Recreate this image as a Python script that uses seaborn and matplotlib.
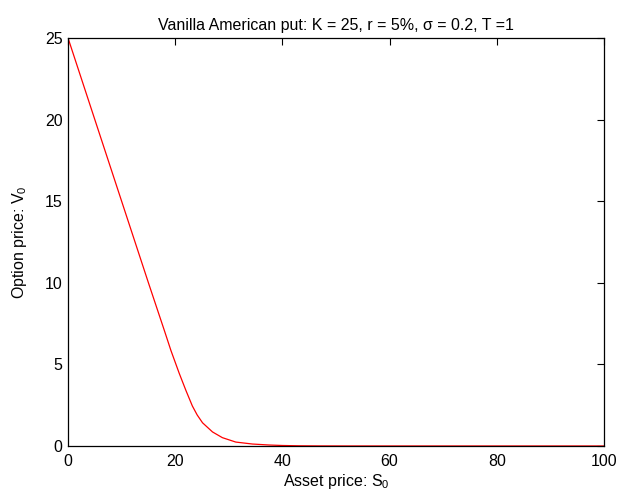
import matplotlib
matplotlib.use("Agg")
import matplotlib.pyplot as plt
import seaborn as sns
import pandas as pd

asset_price = [0, 5, 10, 15, 18.0, 19.2, 20.75, 22.0, 23.2, 24.1, 25.1, 26.96, 28.8,
               31.3, 34.4, 37.5, 40, 43, 47, 52, 60, 70, 80, 90, 100]
option_price = [25, 20, 15, 10, 7.05, 5.85, 4.45, 3.4, 2.45, 1.9, 1.42, 0.86, 0.51,
                0.24, 0.12, 0.06, 0.03, 0.012, 0.004, 0.001, 0, 0, 0, 0, 0]

x_ticks = [0, 20, 40, 60, 80, 100]
y_ticks = [0, 5, 10, 15, 20, 25]

df = pd.DataFrame({"S": asset_price, "V": option_price})

sns.set_style("white")
plt.rcParams["font.family"] = ["Liberation Sans", "DejaVu Sans"]
plt.rcParams["mathtext.default"] = "regular"
plt.rcParams["text.color"] = "black"
plt.rcParams["axes.labelcolor"] = "black"

fig = plt.figure(figsize=(6.2, 4.94), dpi=100)
ax = fig.add_axes([0.1097, 0.0972, 0.8645, 0.826])

sns.lineplot(data=df, x="S", y="V", color="red", linewidth=0.9, ax=ax)

ax.set_xlim(0, 100)
ax.set_ylim(0, 25)
ax.set_xticks(x_ticks)
ax.set_yticks(y_ticks)
ax.tick_params(direction="in", top=True, right=True, length=5, width=0.8,
               labelsize=11.5, colors="black")
ax.tick_params(axis="x", pad=6)
ax.tick_params(axis="y", pad=4)
for s in ax.spines.values():
    s.set_visible(True)
    s.set_color("black")
    s.set_linewidth(0.9)

ax.set_xlabel("Asset price: S$_0$", fontsize=11.5, labelpad=2, color="black")
ax.set_ylabel("Option price: V$_0$", fontsize=11.5, labelpad=11, color="black")
ax.set_title("Vanilla American put: K = 25, r = 5%, σ = 0.2, T =1", fontsize=11.5,
             pad=6, color="black")

fig.savefig("out.png", dpi=100)
